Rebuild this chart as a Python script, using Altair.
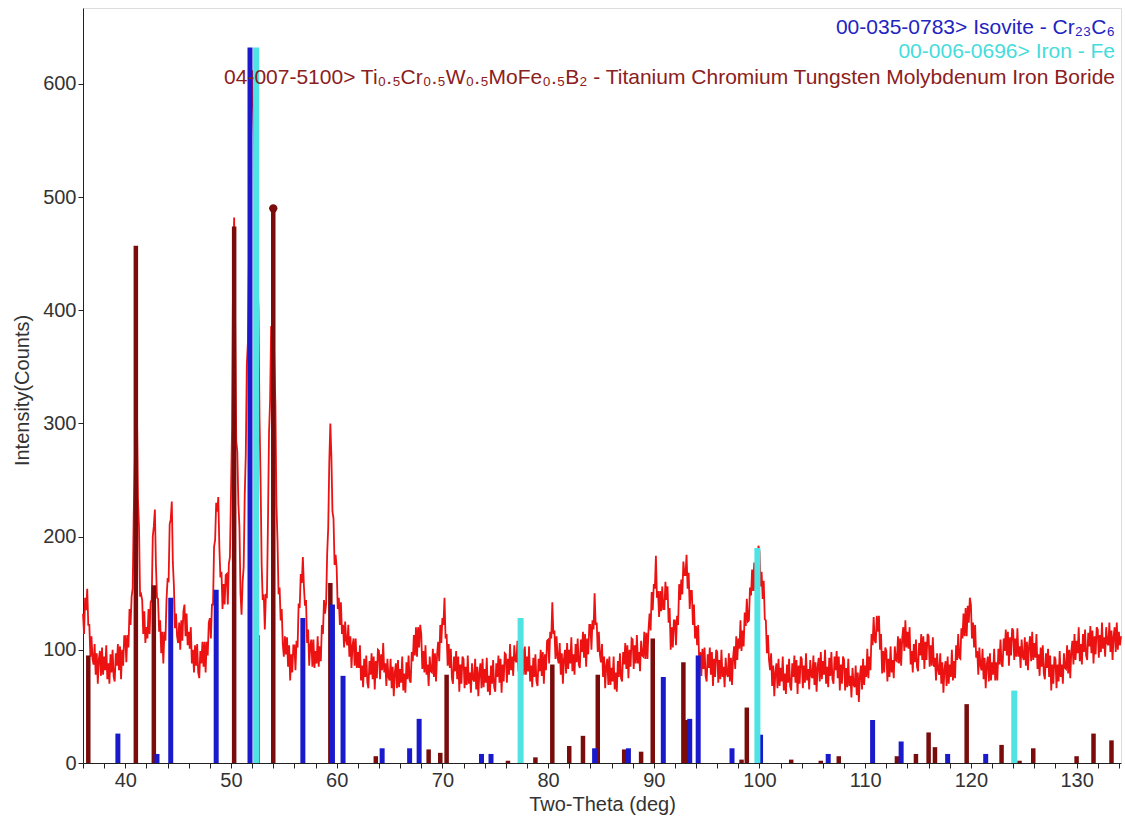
import altair as alt
import pandas as pd

# measured pattern: counts every 0.1 deg from 36.0 to 134.2 (one row per degree)
counts = [
    132, 114, 146, 135, 154, 122, 122, 94, 112, 92,       # 36
    87, 105, 78, 97, 70, 92, 99, 77, 102, 78,             # 37
    94, 82, 104, 74, 88, 70, 96, 80, 100, 76,             # 38
    72, 97, 86, 105, 82, 103, 74, 100, 86, 112,           # 39
    112, 89, 113, 102, 136, 122, 147, 154, 220, 266,      # 40
    335, 314, 233, 208, 147, 149, 144, 114, 134, 106,     # 41
    120, 110, 136, 114, 142, 144, 200, 209, 224, 175,     # 42
    146, 145, 116, 126, 97, 116, 88, 116, 108, 144,       # 43
    162, 161, 211, 215, 231, 177, 157, 119, 132, 112,     # 44
    106, 124, 100, 126, 108, 134, 140, 112, 132, 104,     # 45
    116, 101, 120, 88, 100, 80, 104, 86, 105, 80,         # 46
    75, 99, 88, 107, 85, 107, 80, 107, 95, 124,           # 47
    128, 110, 140, 140, 191, 197, 230, 222, 235, 191,     # 48
    164, 169, 136, 158, 140, 166, 167, 140, 176, 182,     # 49
    238, 296, 438, 482, 382, 284, 275, 229, 209, 150,     # 50
    131, 160, 173, 236, 272, 352, 372, 446, 490, 574,     # 51
    612, 576, 546, 470, 476, 432, 402, 304, 250, 176,     # 52
    144, 149, 118, 148, 147, 214, 292, 320, 386, 382,     # 53
    398, 356, 318, 228, 197, 149, 155, 126, 136, 105,     # 54
    94, 112, 96, 111, 85, 104, 73, 96, 80, 104,           # 55
    104, 82, 108, 102, 141, 137, 167, 159, 182, 156,      # 56
    139, 144, 106, 118, 86, 104, 109, 85, 109, 84,        # 57
    99, 88, 112, 85, 103, 90, 122, 114, 144, 132,         # 58
    141, 185, 208, 266, 300, 270, 222, 216, 175, 184,     # 59
    172, 136, 146, 122, 142, 114, 122, 102, 125, 108,     # 60
    104, 122, 94, 112, 84, 104, 110, 86, 110, 84,         # 61
    98, 84, 104, 73, 86, 67, 92, 76, 95, 71,              # 62
    66, 90, 78, 97, 74, 94, 65, 90, 75, 100,              # 63
    99, 74, 96, 82, 106, 80, 88, 68, 92, 76,              # 64
    73, 92, 66, 85, 59, 80, 88, 66, 91, 67,               # 65
    83, 71, 94, 64, 79, 62, 89, 74, 95, 73,               # 66
    71, 98, 90, 113, 95, 120, 94, 120, 102, 122,          # 67
    114, 83, 99, 80, 104, 78, 87, 68, 94, 81,             # 68
    80, 101, 76, 97, 72, 96, 107, 90, 122, 106,           # 69
    128, 122, 146, 110, 114, 86, 105, 84, 101, 75,        # 70
    70, 94, 81, 99, 74, 94, 63, 87, 70, 94,               # 71
    92, 66, 85, 69, 95, 70, 80, 62, 88, 74,               # 72
    72, 92, 65, 85, 59, 80, 88, 66, 92, 67,               # 73
    83, 71, 93, 63, 77, 60, 86, 70, 91, 67,               # 74
    63, 88, 76, 95, 71, 92, 62, 87, 72, 97,               # 75
    96, 71, 92, 78, 105, 82, 94, 77, 104, 91,             # 76
    89, 108, 81, 100, 73, 94, 101, 78, 103, 78,           # 77
    94, 81, 103, 72, 86, 67, 93, 76, 96, 72,              # 78
    68, 92, 81, 100, 77, 98, 70, 96, 82, 108,             # 79
    109, 88, 116, 110, 142, 114, 117, 92, 112, 93,        # 80
    88, 106, 78, 97, 70, 92, 100, 79, 106, 83,            # 81
    100, 88, 111, 81, 96, 78, 105, 89, 110, 87,           # 82
    84, 109, 98, 116, 93, 114, 85, 110, 96, 122,          # 83
    122, 100, 126, 118, 150, 122, 124, 98, 116, 96,       # 84
    89, 105, 76, 94, 66, 86, 92, 69, 94, 69,              # 85
    84, 72, 94, 65, 80, 63, 90, 76, 97, 75,               # 86
    72, 98, 87, 106, 83, 104, 75, 100, 85, 110,           # 87
    109, 83, 104, 88, 113, 88, 98, 81, 108, 95,           # 88
    94, 116, 92, 115, 92, 118, 132, 117, 151, 135,        # 89
    158, 154, 183, 146, 152, 129, 152, 134, 156, 136,     # 90
    136, 160, 144, 156, 124, 137, 100, 120, 102, 126,     # 91
    126, 104, 130, 122, 158, 144, 162, 149, 178, 166,     # 92
    166, 184, 154, 168, 136, 152, 152, 122, 140, 110,     # 93
    121, 104, 122, 88, 98, 77, 101, 83, 102, 77,          # 94
    72, 96, 84, 102, 78, 98, 68, 92, 76, 100,             # 95
    98, 71, 91, 74, 100, 76, 85, 67, 93, 79,              # 96
    76, 97, 72, 93, 69, 93, 103, 83, 112, 91,             # 97
    110, 101, 126, 99, 117, 103, 133, 121, 145, 125,      # 98
    126, 155, 148, 171, 152, 177, 152, 181, 168, 192,     # 99
    187, 156, 169, 145, 161, 127, 126, 97, 113, 91,       # 100
    82, 97, 68, 86, 59, 80, 88, 66, 92, 68,               # 101
    84, 72, 94, 64, 79, 61, 87, 71, 92, 68,               # 102
    64, 88, 76, 95, 71, 91, 61, 86, 70, 94,               # 103
    92, 66, 86, 71, 97, 73, 83, 65, 91, 77,               # 104
    75, 95, 69, 89, 63, 85, 93, 72, 98, 74,               # 105
    90, 78, 100, 70, 85, 67, 93, 77, 98, 74,              # 106
    70, 94, 82, 99, 75, 94, 64, 87, 70, 94,               # 107
    91, 64, 84, 67, 92, 68, 77, 58, 84, 69,               # 108
    67, 86, 60, 80, 54, 77, 86, 65, 92, 69,               # 109
    86, 76, 101, 75, 94, 82, 114, 104, 129, 108,          # 110
    106, 130, 116, 130, 100, 114, 79, 99, 80, 102,        # 111
    99, 72, 92, 76, 103, 80, 91, 75, 103, 91,             # 112
    90, 112, 88, 110, 86, 110, 120, 99, 126, 102,         # 113
    116, 101, 120, 87, 99, 80, 105, 89, 109, 85,          # 114
    81, 106, 95, 114, 91, 112, 83, 107, 91, 114,          # 115
    112, 85, 104, 86, 111, 85, 93, 73, 97, 82,            # 116
    78, 97, 70, 89, 62, 83, 90, 68, 94, 70,               # 117
    87, 76, 100, 73, 90, 75, 104, 91, 114, 93,            # 118
    92, 119, 110, 132, 112, 137, 112, 139, 124, 146,      # 119
    140, 110, 124, 102, 122, 93, 99, 78, 102, 86,         # 120
    82, 101, 74, 93, 66, 87, 94, 72, 97, 73,              # 121
    89, 78, 101, 73, 89, 73, 101, 87, 109, 87,            # 122
    85, 110, 99, 118, 95, 116, 86, 111, 95, 119,          # 123
    117, 91, 110, 94, 119, 94, 103, 84, 109, 94,          # 124
    91, 111, 86, 107, 82, 104, 112, 90, 116, 91,          # 125
    106, 93, 114, 83, 96, 77, 102, 85, 104, 79,           # 126
    74, 97, 84, 101, 76, 95, 64, 87, 70, 94,              # 127
    92, 66, 87, 72, 99, 76, 87, 70, 97, 84,               # 128
    83, 104, 79, 100, 75, 99, 108, 87, 114, 91,           # 129
    108, 97, 120, 90, 105, 87, 114, 98, 118, 95,          # 130
    91, 115, 103, 121, 97, 117, 88, 112, 96, 120,         # 131
    118, 93, 113, 98, 124, 101, 111, 94, 120, 106,        # 132
    104, 124, 98, 117, 91, 112, 120, 98, 124, 100,        # 133
    116, 104, 112,                                        # 134
]
two_theta = [round(36.0 + 0.1 * i, 1) for i in range(len(counts))]

# reference sticks
boride_pos = [36.5, 41.0, 42.7, 50.3, 52.5, 54.0, 59.4, 63.7, 68.7, 69.8, 70.4, 76.2, 78.8, 80.4,
              82.0, 83.3, 84.7, 87.2, 88.8, 89.9, 92.8, 93.1, 93.3, 98.3, 98.8, 103.0, 105.8, 107.5,
              113.0, 114.8, 116.0, 116.6, 119.6, 122.9, 124.6, 125.9, 130.0, 131.6, 133.3]
boride_int = [95, 457, 157, 474, 113, 490, 159, 6, 12, 9, 78, 2, 5, 87,
              15, 24, 78, 12, 10, 110, 89, 38, 38, 3, 49, 3, 2, 6,
              6, 8, 27, 14, 52, 16, 2, 13, 6, 26, 20]
isovite_pos = [39.3, 43.0, 44.3, 48.6, 51.8, 56.8, 59.6, 60.6, 64.3, 66.9, 67.8, 73.7, 74.6, 84.4,
               87.6, 90.9, 93.4, 94.2, 97.4, 100.1, 106.5, 110.7, 113.4, 117.8, 121.4]
isovite_int = [26, 8, 146, 153, 632, 128, 140, 77, 13, 13, 39, 8, 8, 13,
               13, 76, 39, 95, 13, 25, 8, 38, 19, 8, 8]
iron_pos = [52.38, 77.4, 99.8, 124.1]
iron_int = [632, 128, 190, 64]

legend_texts = [
    "00-035-0783> Isovite - Cr₂₃C₆",
    "00-006-0696> Iron - Fe",
    "04-007-5100> Ti₀.₅Cr₀.₅W₀.₅MoFe₀.₅B₂ - Titanium Chromium Tungsten Molybdenum Iron Boride",
]
legend_colors = ["#2323c0", "#45dcdc", "#8b2020"]
x_ticks = list(range(36, 135, 2))
y_ticks = [0, 100, 200, 300, 400, 500, 600]

W, H = 1038, 755
xs = alt.Scale(domain=[36, 134.2], nice=False, zero=False)
ys = alt.Scale(domain=[0, 667], nice=False)
FONT = "Liberation Sans"

line_df = pd.DataFrame({"tt": two_theta, "c": counts})
x_axis = alt.Axis(
    title="Two-Theta (deg)", values=x_ticks,
    labelExpr="datum.value % 10 == 0 ? datum.label : ''", labelOverlap=False,
    grid=False, tickSize=5, tickColor="#222", domainColor="#222",
    labelFontSize=20, labelColor="#333", labelFont=FONT,
    titleFontSize=20, titleFontWeight="normal", titleColor="#333", titleFont=FONT,
    titleY=41, titleBaseline="middle", labelPadding=2,
)
y_axis = alt.Axis(
    title="Intensity(Counts)", values=y_ticks,
    grid=False, tickSize=5, tickColor="#222", domainColor="#222",
    labelFontSize=20, labelColor="#333", labelFont=FONT, labelOverlap=False,
    titleFontSize=20, titleFontWeight="normal", titleColor="#333", titleFont=FONT,
    titleX=-61, titleY=382, titleBaseline="middle", labelPadding=2,
)

X = lambda f: alt.X(f, scale=xs, axis=x_axis)
Y = lambda f: alt.Y(f, scale=ys, axis=y_axis)

line = alt.Chart(line_df).mark_line(color="#ec1212", strokeWidth=1.8).encode(
    x=X("tt:Q"), y=Y("c:Q"),
)

def sticks(pos, inten, color, width):
    df = pd.DataFrame({"tt": pos, "i": inten, "z": [0] * len(pos)})
    return alt.Chart(df).mark_rule(color=color, strokeWidth=width).encode(
        x=X("tt:Q"), y=Y("z:Q"), y2="i:Q"
    )

s_boride = sticks(boride_pos, boride_int, "#7a0c0c", 4.5)
s_iso = sticks(isovite_pos, isovite_int, "#1a1acd", 5)
s_iron = sticks(iron_pos, iron_int, "#4fe3e3", 6)

cap_df = pd.DataFrame({"tt": [boride_pos[5]], "i": [boride_int[5]]})
cap = alt.Chart(cap_df).mark_point(filled=True, color="#7a0c0c", size=70, opacity=1).encode(
    x=X("tt:Q"), y=Y("i:Q")
)

texts = []
for k, (t, col) in enumerate(zip(legend_texts, legend_colors)):
    tdf = pd.DataFrame({"t": [t]})
    texts.append(
        alt.Chart(tdf).mark_text(align="right", baseline="middle", fontSize=21,
                                 font=FONT, color=col).encode(
            text="t:N", x=alt.value(1032), y=alt.value(20 + 24 * k + (2 if k == 2 else 0))
        )
    )

chart = alt.layer(line, s_boride, s_iso, s_iron, cap, *texts).properties(
    width=W, height=H,
    padding={"left": 83, "top": 8, "right": 4, "bottom": 62},
    autosize=alt.AutoSizeParams(type="none"),
).configure_view(stroke="#222", strokeWidth=1.5).configure(background="white")

chart.save("out.html", embed_options={"renderer": "svg", "actions": False})
